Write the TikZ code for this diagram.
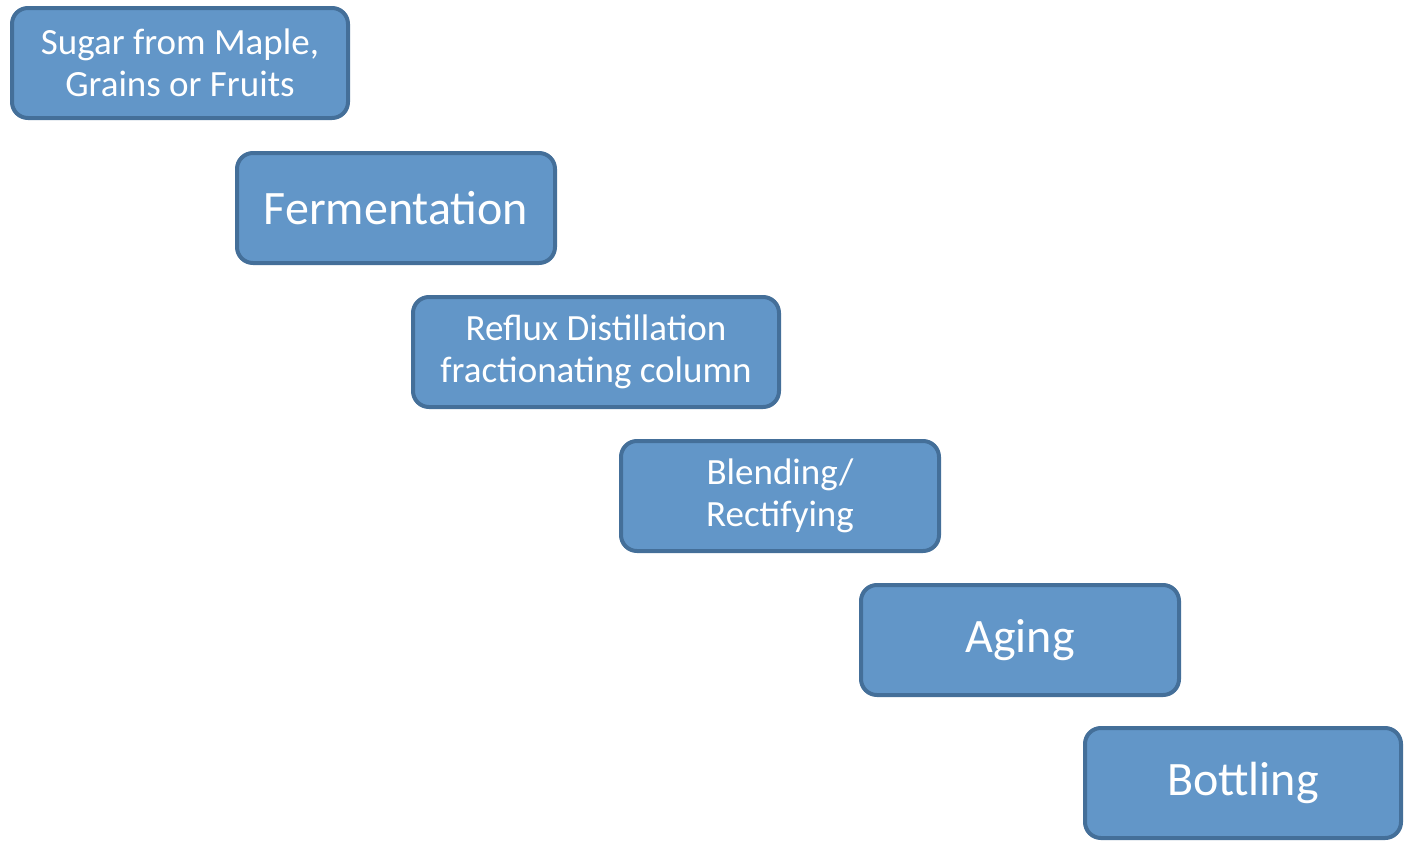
\documentclass[tikz,border=0pt]{standalone}
\usepackage{fontspec}
\setmainfont{Carlito}
\usetikzlibrary{positioning}
\definecolor{boxfill}{RGB}{98,150,200}
\definecolor{boxline}{RGB}{68,111,153}
\tikzstyle{stage} = [draw=boxline,line width=2pt,fill=boxfill,rounded corners=.28cm,text=white,align=center,inner sep=0,minimum width=159pt,minimum height=55pt]
\tikzstyle{small} = [font=\fontsize{18.5}{21}\selectfont]
\tikzstyle{big} = [font=\fontsize{24}{27}\selectfont]

\begin{document}
\begin{tikzpicture}[x=0.5pt,y=-0.5pt]
      \useasboundingbox (0,0) rectangle (1404,841);
      \node[stage,small,minimum width=168pt] (sugar) at (180,63) {Sugar from Maple,\\Grains or Fruits};
      \node[stage,big] (ferm) at (396,208) {Fermentation};
      \node[stage,small,minimum width=183pt] (reflux) at (596,352) {Reflux Distillation\\fractionating column};
      \node[stage,small] (blend) at (780,496) {Blending/\\Rectifying};
      \node[stage,big] (aging) at (1020,640) {Aging};
      \node[stage,big,minimum width=158pt] (bottle) at (1243,783) {Bottling};
    \end{tikzpicture}
\end{document}
